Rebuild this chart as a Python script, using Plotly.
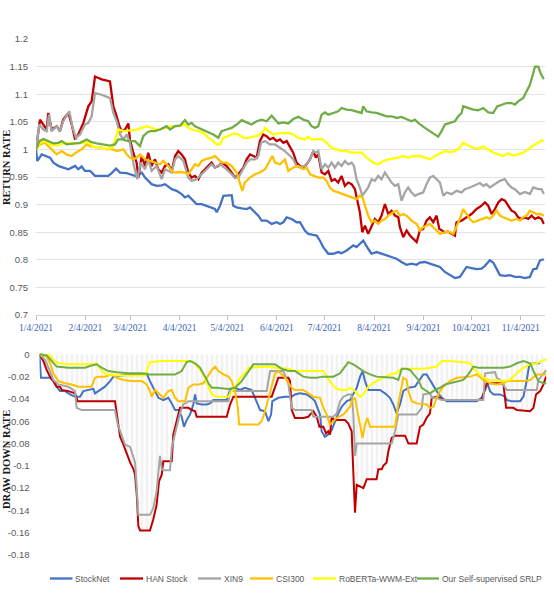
import plotly.graph_objects as go
import pandas as pd

BASE = pd.Timestamp("2021-01-04")
END_DAY = 319

series_names = ["StockNet", "HAN Stock", "XIN9", "CSI300", "RoBERTa-WWM-Ext", "Our Self-supervised SRLP"]
series_colors = ["#4472C4", "#C00000", "#A5A5A5", "#FFC000", "#FFFF00", "#70AD47"]

month_ticks = ["2021-01-04", "2021-02-04", "2021-03-04", "2021-04-04", "2021-05-04", "2021-06-04",
               "2021-07-04", "2021-08-04", "2021-09-04", "2021-10-04", "2021-11-04"]
month_labels = ["1/4/2021", "2/4/2021", "3/4/2021", "4/4/2021", "5/4/2021", "6/4/2021",
                "7/4/2021", "8/4/2021", "9/4/2021", "10/4/2021", "11/4/2021"]
ret_ticks = [0.7, 0.75, 0.8, 0.85, 0.9, 0.95, 1.0, 1.05, 1.1, 1.15, 1.2]
ret_labels = ["0.7", "0.75", "0.8", "0.85", "0.9", "0.95", "1", "1.05", "1.1", "1.15", "1.2"]
dd_ticks = [0, -0.02, -0.04, -0.06, -0.08, -0.1, -0.12, -0.14, -0.16, -0.18]
dd_labels = ["0", "-0.02", "-0.04", "-0.06", "-0.08", "-0.1", "-0.12", "-0.14", "-0.16", "-0.18"]

# (day since 2021-01-04, return rate)
stocknet_return = [(0,1.0),(0.8,0.979),(3.6,0.991),(6.7,0.987),(8.8,0.985),(10.9,0.976),(14.0,0.970),(17.1,0.967),(20.3,0.964),(22.4,0.967),(24.5,0.970),(26.5,0.964),(28.6,0.969),(30.7,0.961),(33.9,0.961),(37.0,0.952),(41.2,0.952),(45.4,0.952),(47.4,0.957),(50.2,0.965),(52.7,0.958),(56.9,0.957),(58.9,0.955),(63.1,0.951),(66.3,0.958),(68.4,0.949),(72.5,0.937),(75.7,0.934),(78.8,0.935),(80.9,0.937),(85.1,0.928),(88.2,0.925),(91.3,0.919),(93.4,0.913),(95.5,0.916),(97.6,0.910),(100.7,0.901),(103.9,0.901),(107.0,0.898),(110.1,0.895),(112.2,0.892),(113.3,0.886),(115.4,0.898),(117.5,0.916),(122.7,0.917),(123.7,0.898),(125.8,0.895),(129.0,0.893),(132.1,0.892),(134.2,0.895),(136.3,0.889),(139.4,0.880),(141.5,0.871),(144.6,0.871),(147.8,0.865),(150.9,0.868),(153.0,0.865),(155.1,0.868),(157.2,0.877),(160.3,0.874),(163.4,0.868),(165.5,0.868),(168.6,0.853),(170.7,0.847),(173.9,0.845),(176.0,0.844),(178.0,0.835),(180.1,0.823),(183.3,0.811),(186.4,0.811),(189.5,0.814),(191.6,0.812),(194.8,0.817),(196.9,0.821),(199.0,0.826),(201.0,0.823),(205.2,0.835),(208.3,0.820),(210.4,0.811),(213.6,0.814),(216.7,0.811),(219.8,0.808),(223.0,0.805),(226.1,0.802),(229.2,0.796),(232.4,0.791),(235.5,0.793),(238.7,0.791),(240.7,0.795),(243.9,0.796),(247.0,0.793),(250.2,0.790),(253.3,0.787),(256.4,0.778),(259.6,0.772),(262.7,0.767),(265.8,0.769),(267.9,0.778),(270.0,0.787),(273.1,0.785),(276.3,0.783),(279.4,0.784),(281.5,0.789),(284.6,0.799),(286.7,0.795),(288.8,0.784),(290.9,0.772),(294.0,0.771),(297.2,0.772),(300.3,0.769),(303.5,0.769),(306.6,0.767),(309.7,0.769),(311.8,0.783),(313.9,0.784),(316.0,0.799),(318.5,0.801)]

han_return = [(0,1.0),(2.5,1.054),(4.6,1.045),(6.7,1.036),(7.7,1.066),(9.8,1.036),(13.0,1.042),(15.0,1.033),(17.1,1.054),(20.3,1.066),(22.4,1.045),(24.5,1.018),(26.5,1.027),(29.7,1.048),(32.8,1.078),(34.9,1.087),(37.0,1.132),(41.2,1.127),(46.4,1.123),(48.5,1.078),(50.6,1.060),(52.3,1.042),(53.7,1.033),(55.8,1.036),(57.9,1.047),(58.9,1.018),(61.0,0.994),(63.1,0.976),(64.2,0.949),(66.3,0.988),(68.4,0.970),(70.4,0.994),(72.5,0.970),(74.6,0.982),(76.7,0.964),(78.8,0.958),(80.9,0.970),(83.0,0.973),(85.1,0.961),(87.2,0.988),(89.2,0.997),(91.3,0.991),(93.4,0.982),(95.5,0.958),(97.6,0.949),(99.7,0.952),(101.8,0.946),(103.9,0.958),(107.0,0.967),(110.1,0.976),(112.2,0.967),(114.3,0.970),(116.4,0.976),(119.5,0.970),(122.7,0.958),(124.8,0.949),(126.9,0.955),(130.0,0.967),(132.1,0.982),(134.2,0.991),(136.3,0.988),(138.4,0.985),(140.4,1.015),(142.5,1.027),(144.6,1.024),(146.7,1.018),(148.8,1.021),(150.9,1.015),(153.0,1.018),(155.1,1.012),(157.2,1.015),(159.3,1.003),(161.3,0.994),(163.4,0.976),(165.5,0.970),(167.6,0.967),(169.7,0.973),(171.8,0.982),(173.9,0.997),(175.5,0.985),(177.0,0.991),(179.1,0.958),(181.2,0.955),(183.3,0.961),(185.4,0.943),(187.4,0.946),(189.5,0.940),(191.6,0.952),(193.7,0.934),(195.8,0.940),(197.9,0.937),(200.0,0.928),(201.4,0.910),(203.1,0.886),(204.6,0.850),(206.3,0.862),(208.3,0.847),(210.4,0.859),(212.5,0.874),(214.6,0.868),(216.7,0.880),(218.8,0.901),(220.9,0.883),(223.0,0.889),(225.1,0.880),(227.2,0.877),(228.2,0.859),(230.3,0.841),(232.4,0.853),(234.5,0.844),(236.6,0.838),(238.7,0.832),(240.7,0.853),(242.8,0.856),(244.9,0.871),(247.0,0.877),(249.1,0.868),(251.2,0.880),(252.9,0.856),(254.3,0.853),(256.4,0.850),(258.5,0.851),(260.6,0.847),(262.7,0.844),(263.7,0.868),(266.9,0.871),(270.0,0.877),(273.1,0.883),(276.3,0.892),(279.4,0.898),(281.5,0.904),(283.6,0.898),(285.7,0.883),(287.8,0.892),(289.9,0.904),(292.0,0.910),(294.1,0.907),(296.1,0.898),(298.2,0.889),(300.3,0.886),(302.4,0.877),(304.5,0.874),(306.6,0.877),(308.7,0.874),(310.8,0.880),(312.9,0.874),(315.0,0.877),(317.0,0.874),(318.5,0.865)]

xin9_return = [(0,1.0),(2.1,1.045),(4.6,1.036),(6.7,1.033),(8.2,1.063),(9.8,1.033),(13.0,1.042),(15.0,1.033),(17.1,1.051),(20.9,1.069),(23.0,1.039),(25.1,1.021),(27.6,1.027),(30.7,1.045),(32.8,1.048),(34.9,1.060),(37.0,1.102),(41.2,1.099),(46.4,1.093),(48.5,1.066),(50.6,1.051),(52.7,1.027),(54.8,1.018),(56.9,1.027),(58.9,1.012),(61.0,0.976),(63.5,0.946),(65.6,0.976),(68.4,0.964),(70.4,0.982),(72.5,0.961),(75.7,0.970),(78.8,0.946),(80.9,0.964),(85.1,0.958),(87.2,0.982),(89.2,0.988),(92.4,0.979),(95.5,0.949),(97.6,0.943),(100.7,0.946),(103.9,0.955),(107.0,0.964),(110.1,0.973),(112.2,0.967),(115.4,0.973),(119.5,0.964),(122.7,0.955),(124.8,0.949),(126.9,0.949),(130.0,0.964),(132.1,0.976),(134.2,0.982),(137.3,0.982),(139.4,0.988),(141.1,1.012),(143.6,1.015),(146.7,1.009),(149.9,1.009),(153.0,1.003),(156.1,0.997),(159.3,0.988),(161.3,0.982),(163.4,0.970),(165.5,0.967),(168.6,0.970),(171.8,0.982),(173.9,0.997),(175.5,0.994),(177.0,0.997),(179.1,0.964),(181.2,0.973),(183.3,0.967),(185.4,0.976),(187.4,0.967),(189.5,0.976),(191.6,0.970),(193.7,0.979),(195.8,0.973),(197.9,0.976),(199.4,0.970),(201.0,0.946),(203.1,0.931),(204.6,0.916),(206.3,0.922),(208.3,0.931),(210.4,0.946),(212.5,0.943),(214.6,0.952),(216.7,0.946),(218.8,0.958),(220.9,0.949),(223.0,0.940),(225.1,0.934),(227.2,0.937),(228.2,0.922),(229.2,0.907),(231.3,0.922),(233.4,0.931),(235.5,0.922),(237.6,0.916),(239.7,0.919),(242.8,0.922),(244.9,0.937),(247.0,0.949),(249.1,0.952),(251.2,0.946),(253.3,0.940),(255.4,0.916),(257.5,0.922),(260.6,0.919),(263.7,0.925),(266.9,0.922),(268.9,0.928),(272.1,0.931),(275.2,0.935),(278.4,0.939),(280.5,0.934),(282.5,0.937),(284.6,0.931),(287.8,0.937),(290.9,0.943),(294.0,0.946),(296.1,0.937),(298.2,0.931),(300.3,0.928),(303.5,0.919),(306.6,0.923),(309.7,0.919),(311.8,0.931),(315.0,0.928),(317.0,0.928),(318.5,0.919)]

csi300_return = [(0,1.0),(2.5,1.009),(5.6,1.012),(7.7,1.005),(9.8,1.0),(13.0,0.991),(16.1,0.997),(19.2,0.991),(22.4,0.988),(25.5,0.995),(28.6,1.0),(31.8,1.009),(33.9,1.006),(37.0,1.004),(41.2,1.003),(44.3,1.0),(47.4,1.001),(50.6,0.997),(54.8,1.0),(56.9,0.991),(58.9,0.985),(61.0,0.982),(63.1,0.985),(65.2,0.991),(68.4,0.982),(71.5,0.979),(74.6,0.976),(77.8,0.973),(79.8,0.979),(81.9,0.973),(83.0,0.970),(85.1,0.961),(87.2,0.958),(90.3,0.959),(93.4,0.958),(95.5,0.955),(97.6,0.964),(99.7,0.973),(101.8,0.970),(103.9,0.979),(107.0,0.983),(110.1,0.985),(112.2,0.988),(114.3,0.982),(116.4,0.976),(119.5,0.976),(122.7,0.970),(125.8,0.958),(127.9,0.937),(129.4,0.925),(131.0,0.940),(134.2,0.949),(137.3,0.955),(140.4,0.958),(143.6,0.964),(146.7,0.979),(148.2,0.988),(149.9,0.976),(153.0,0.973),(156.1,0.982),(158.2,0.961),(161.3,0.967),(164.5,0.970),(167.6,0.964),(169.7,0.967),(171.8,0.955),(173.9,0.952),(177.0,0.949),(180.1,0.949),(182.2,0.943),(184.3,0.931),(186.4,0.925),(189.5,0.922),(192.7,0.919),(195.8,0.916),(199.0,0.913),(201.0,0.910),(203.1,0.916),(204.8,0.913),(206.3,0.898),(208.3,0.880),(210.4,0.868),(212.5,0.871),(214.6,0.865),(216.7,0.871),(218.8,0.874),(220.9,0.880),(224.0,0.886),(226.1,0.889),(228.2,0.880),(230.3,0.883),(232.4,0.880),(235.5,0.871),(238.7,0.865),(240.75,0.853),(242.8,0.859),(244.9,0.862),(247.0,0.865),(249.1,0.859),(251.2,0.853),(253.3,0.847),(256.4,0.850),(259.6,0.850),(261.7,0.847),(263.7,0.859),(265.8,0.874),(267.9,0.892),(270.0,0.883),(272.1,0.874),(274.2,0.868),(277.3,0.871),(280.5,0.874),(282.5,0.877),(284.6,0.874),(286.7,0.880),(288.8,0.889),(290.9,0.880),(293.0,0.877),(295.1,0.874),(298.2,0.871),(301.4,0.874),(303.5,0.871),(305.5,0.877),(307.6,0.880),(309.7,0.889),(311.8,0.886),(313.9,0.883),(316.0,0.883),(318.5,0.880)]

roberta_return = [(0,1.0),(2.5,1.012),(5.6,1.015),(8.8,1.009),(13.0,1.007),(17.1,1.011),(21.3,1.012),(25.5,1.011),(29.7,1.012),(32.8,1.013),(35.9,1.005),(40.1,1.003),(44.3,1.001),(48.1,1.003),(49.5,1.015),(51.6,1.036),(54.8,1.033),(58.9,1.034),(63.1,1.036),(66.3,1.039),(69.4,1.042),(72.5,1.039),(75.7,1.036),(78.8,1.037),(81.9,1.039),(85.1,1.042),(89.2,1.042),(93.4,1.045),(95.5,1.039),(97.6,1.036),(101.8,1.033),(104.9,1.030),(108.1,1.021),(111.2,1.015),(113.3,1.009),(115.4,1.009),(117.5,1.021),(120.6,1.024),(123.7,1.029),(126.9,1.027),(130.0,1.021),(133.1,1.021),(136.3,1.023),(139.4,1.025),(142.5,1.033),(143.6,1.039),(145.7,1.033),(148.8,1.027),(151.9,1.029),(155.1,1.030),(158.2,1.030),(161.3,1.027),(164.5,1.021),(168.6,1.018),(170.7,1.023),(172.8,1.018),(176.0,1.018),(179.1,1.019),(182.2,1.012),(185.4,1.003),(188.5,1.0),(191.6,0.997),(194.8,0.997),(197.9,0.994),(201.0,0.994),(204.2,0.994),(207.3,0.985),(209.4,0.981),(211.5,0.976),(214.6,0.973),(217.8,0.979),(220.9,0.982),(224.0,0.983),(227.2,0.985),(230.3,0.988),(233.4,0.985),(236.6,0.988),(240.75,0.988),(243.9,0.985),(247.0,0.982),(250.2,0.988),(253.3,0.993),(256.4,0.997),(259.6,0.995),(262.7,0.997),(265.8,1.003),(267.9,1.012),(271.1,1.007),(274.2,1.003),(277.3,1.001),(280.5,1.005),(283.6,1.0),(286.7,0.994),(289.9,0.991),(293.0,0.988),(296.1,0.993),(299.3,0.989),(302.4,0.991),(305.5,0.994),(308.7,1.0),(311.8,1.007),(314.9,1.012),(317.0,1.017),(318.5,1.015)]

srlp_return = [(0,1.0),(2.1,1.015),(4.6,1.019),(7.7,1.015),(10.9,1.011),(14.0,1.012),(16.1,1.015),(19.2,1.009),(23.4,1.011),(27.6,1.012),(31.8,1.018),(34.9,1.013),(38.0,1.011),(42.2,1.009),(46.4,1.007),(49.5,1.009),(51.6,1.018),(53.7,1.018),(57.9,1.015),(62.1,1.015),(65.2,1.006),(67.3,1.024),(69.4,1.030),(71.5,1.033),(74.6,1.033),(77.8,1.036),(79.8,1.039),(81.9,1.042),(84.0,1.036),(87.2,1.042),(90.3,1.043),(93.4,1.053),(95.5,1.045),(97.6,1.048),(99.7,1.042),(101.8,1.039),(104.9,1.036),(108.1,1.030),(111.2,1.027),(114.3,1.021),(116.4,1.033),(119.5,1.036),(122.7,1.039),(125.8,1.045),(129.0,1.053),(132.1,1.049),(135.2,1.045),(138.4,1.051),(141.5,1.054),(144.6,1.051),(147.8,1.061),(149.9,1.054),(152.0,1.047),(155.1,1.049),(158.2,1.047),(161.3,1.055),(164.5,1.059),(167.6,1.054),(170.7,1.051),(172.8,1.042),(174.9,1.039),(177.0,1.042),(179.1,1.063),(181.2,1.067),(183.3,1.063),(186.4,1.066),(189.5,1.069),(191.6,1.075),(194.8,1.072),(197.9,1.071),(201.0,1.069),(204.2,1.066),(205.2,1.078),(207.3,1.069),(210.4,1.067),(213.6,1.066),(216.7,1.063),(219.8,1.060),(223.0,1.060),(226.1,1.057),(229.2,1.059),(232.4,1.055),(235.5,1.051),(237.6,1.054),(239.7,1.048),(243.9,1.039),(247.0,1.033),(250.2,1.027),(252.2,1.023),(254.3,1.033),(256.4,1.045),(259.6,1.048),(262.7,1.051),(264.8,1.060),(266.9,1.066),(267.9,1.078),(271.1,1.075),(274.2,1.072),(277.3,1.071),(280.5,1.075),(283.6,1.067),(286.7,1.066),(289.2,1.078),(292.0,1.081),(295.1,1.084),(298.2,1.084),(300.3,1.081),(302.4,1.087),(305.5,1.093),(307.6,1.105),(309.7,1.117),(311.8,1.138),(312.9,1.150),(315.0,1.150),(316.4,1.138),(318.5,1.127)]

# (day since 2021-01-04, draw down rate)
stocknet_drawdown = [(0,0),(0.9,-0.021),(6.6,-0.021),(8.7,-0.024),(10.8,-0.029),(12.9,-0.033),(16.1,-0.033),(19.2,-0.036),(22.3,-0.038),(25.5,-0.038),(27.6,-0.033),(30.7,-0.032),(33.9,-0.031),(34.9,-0.035),(38.1,-0.032),(41.2,-0.029),(44.4,-0.024),(46.5,-0.020),(51.7,-0.019),(58.0,-0.018),(64.3,-0.018),(67.4,-0.017),(69.5,-0.024),(72.7,-0.033),(74.8,-0.039),(77.9,-0.041),(81.1,-0.039),(83.2,-0.044),(85.3,-0.050),(87.4,-0.050),(89.5,-0.056),(90.9,-0.065),(92.6,-0.059),(94.7,-0.054),(96.8,-0.045),(97.9,-0.036),(98.9,-0.044),(102.1,-0.045),(105.2,-0.045),(107.3,-0.044),(109.4,-0.041),(117.8,-0.041),(119.9,-0.032),(123.0,-0.030),(126.2,-0.032),(129.3,-0.030),(133.5,-0.032),(135.6,-0.039),(138.8,-0.050),(141.9,-0.051),(144.0,-0.060),(145.7,-0.054),(146.5,-0.042),(150.3,-0.039),(154.5,-0.038),(158.7,-0.038),(160.7,-0.036),(163.9,-0.035),(168.1,-0.036),(171.2,-0.039),(173.3,-0.042),(176.5,-0.054),(177.5,-0.069),(179.6,-0.074),(181.7,-0.072),(183.8,-0.068),(185.9,-0.060),(188.0,-0.053),(190.1,-0.047),(193.3,-0.042),(195.4,-0.041),(197.5,-0.036),(199.6,-0.030),(201.7,-0.020),(203.3,-0.015),(204.8,-0.024),(206.9,-0.032),(214.2,-0.032),(217.4,-0.035),(220.5,-0.039),(222.6,-0.045),(224.7,-0.053),(226.8,-0.045),(228.9,-0.033),(232.1,-0.030),(236.3,-0.029),(239.4,-0.023),(241.5,-0.018),(243.6,-0.018),(245.7,-0.023),(247.4,-0.026),(249.9,-0.033),(253.1,-0.039),(256.2,-0.042),(275.1,-0.042),(278.2,-0.039),(280.3,-0.032),(281.8,-0.026),(283.5,-0.033),(285.6,-0.036),(289.8,-0.036),(292.9,-0.038),(294.0,-0.041),(297.1,-0.042),(302.4,-0.042),(304.5,-0.038),(306.6,-0.023),(308.2,-0.009),(311.8,-0.008),(315.0,-0.008)]

han_drawdown = [(0,0),(2.4,-0.006),(4.5,-0.014),(6.6,-0.020),(8.7,-0.024),(10.8,-0.029),(12.9,-0.029),(14.0,-0.032),(18.2,-0.033),(22.3,-0.035),(24.0,-0.042),(47.5,-0.042),(48.6,-0.053),(49.6,-0.063),(50.7,-0.074),(52.8,-0.081),(54.9,-0.090),(57.0,-0.097),(59.1,-0.103),(60.1,-0.108),(61.2,-0.126),(62.2,-0.154),(63.3,-0.158),(69.5,-0.158),(71.6,-0.148),(73.7,-0.135),(75.2,-0.114),(76.9,-0.108),(77.9,-0.096),(83.2,-0.096),(84.2,-0.072),(86.3,-0.060),(88.4,-0.048),(93.7,-0.048),(95.8,-0.050),(97.9,-0.051),(98.9,-0.056),(117.8,-0.056),(119.9,-0.045),(122.0,-0.038),(146.1,-0.038),(150.3,-0.021),(156.6,-0.021),(157.6,-0.024),(158.7,-0.050),(160.7,-0.057),(166.0,-0.057),(169.1,-0.056),(172.3,-0.051),(174.4,-0.056),(176.1,-0.065),(178.6,-0.065),(180.3,-0.071),(181.7,-0.069),(182.8,-0.072),(183.8,-0.057),(185.9,-0.059),(192.2,-0.059),(194.3,-0.062),(196.4,-0.069),(197.5,-0.114),(198.5,-0.142),(199.6,-0.117),(201.2,-0.118),(203.8,-0.120),(205.9,-0.112),(212.1,-0.112),(213.2,-0.103),(215.3,-0.103),(216.3,-0.100),(218.4,-0.097),(219.5,-0.087),(221.6,-0.075),(223.7,-0.073),(230.0,-0.073),(232.1,-0.080),(237.3,-0.080),(239.4,-0.065),(241.5,-0.063),(243.6,-0.057),(245.7,-0.053),(246.8,-0.039),(249.9,-0.038),(252.0,-0.039),(254.1,-0.041),(278.2,-0.041),(280.3,-0.032),(281.4,-0.026),(289.8,-0.026),(291.9,-0.027),(293.6,-0.048),(298.2,-0.048),(300.3,-0.050),(308.7,-0.051),(310.8,-0.048),(312.4,-0.036),(315.0,-0.033),(317.1,-0.027),(318.7,-0.020)]

xin9_drawdown = [(0,0),(3.5,-0.005),(6.6,-0.015),(8.7,-0.023),(11.9,-0.027),(18.2,-0.029),(22.3,-0.033),(23.4,-0.048),(26.5,-0.050),(47.5,-0.050),(49.2,-0.063),(51.3,-0.072),(53.8,-0.081),(57.0,-0.083),(58.4,-0.090),(60.1,-0.097),(61.2,-0.120),(62.2,-0.144),(69.5,-0.144),(71.6,-0.138),(73.7,-0.123),(74.8,-0.102),(75.8,-0.091),(76.9,-0.103),(77.9,-0.104),(82.1,-0.104),(83.2,-0.084),(85.3,-0.071),(88.4,-0.053),(90.5,-0.045),(93.7,-0.042),(118.9,-0.042),(119.9,-0.033),(143.0,-0.033),(145.1,-0.015),(153.5,-0.015),(156.6,-0.027),(158.7,-0.048),(160.8,-0.050),(171.2,-0.050),(172.3,-0.056),(184.9,-0.056),(187.0,-0.053),(189.1,-0.042),(191.2,-0.038),(194.3,-0.036),(196.4,-0.036),(197.5,-0.054),(198.5,-0.091),(199.6,-0.080),(221.6,-0.080),(223.7,-0.069),(225.8,-0.054),(237.3,-0.054),(240.5,-0.048),(241.5,-0.036),(245.7,-0.035),(246.8,-0.039),(249.9,-0.039),(253.1,-0.041),(279.3,-0.041),(280.3,-0.017),(286.6,-0.016),(287.7,-0.021),(289.8,-0.023),(294.0,-0.032),(312.9,-0.032),(313.9,-0.023),(317.1,-0.017),(319.0,-0.014)]

csi300_drawdown = [(0,0),(4.5,-0.002),(6.6,-0.008),(8.7,-0.017),(11.9,-0.024),(16.1,-0.026),(20.2,-0.027),(24.4,-0.029),(32.8,-0.029),(34.9,-0.021),(37.0,-0.020),(41.2,-0.020),(45.4,-0.018),(48.6,-0.021),(52.8,-0.023),(58.0,-0.024),(64.3,-0.024),(67.4,-0.027),(69.5,-0.033),(70.6,-0.038),(72.7,-0.032),(74.8,-0.035),(77.9,-0.039),(81.1,-0.033),(83.2,-0.032),(85.3,-0.039),(87.4,-0.042),(91.6,-0.042),(93.7,-0.030),(96.8,-0.027),(100.0,-0.027),(103.1,-0.026),(106.3,-0.018),(108.4,-0.014),(110.5,-0.011),(112.6,-0.015),(115.7,-0.018),(118.9,-0.020),(121.0,-0.024),(123.0,-0.033),(124.7,-0.047),(125.6,-0.063),(137.7,-0.063),(139.8,-0.060),(141.9,-0.051),(144.0,-0.039),(146.1,-0.027),(148.2,-0.017),(150.3,-0.015),(154.5,-0.021),(158.7,-0.030),(160.8,-0.032),(166.0,-0.032),(169.1,-0.035),(172.3,-0.038),(176.5,-0.039),(178.6,-0.048),(180.7,-0.054),(182.8,-0.063),(184.9,-0.060),(187.0,-0.057),(191.2,-0.054),(193.3,-0.050),(195.4,-0.047),(196.4,-0.042),(198.5,-0.039),(199.6,-0.048),(201.7,-0.065),(203.3,-0.075),(204.8,-0.063),(206.3,-0.057),(208.0,-0.065),(223.7,-0.065),(225.8,-0.044),(227.9,-0.027),(228.9,-0.021),(231.0,-0.023),(232.1,-0.033),(234.2,-0.042),(237.3,-0.044),(243.6,-0.045),(245.7,-0.048),(247.9,-0.047),(249.9,-0.039),(252.0,-0.033),(254.1,-0.029),(258.3,-0.024),(262.5,-0.021),(270.9,-0.020),(275.1,-0.018),(279.3,-0.023),(283.5,-0.026),(287.7,-0.027),(291.9,-0.026),(294.0,-0.024),(304.5,-0.024),(308.7,-0.023),(312.9,-0.018),(319.0,-0.018)]

roberta_drawdown = [(0,0),(6.6,-0.001),(8.7,-0.005),(11.9,-0.008),(18.2,-0.009),(32.8,-0.009),(36.0,-0.008),(39.1,-0.015),(42.3,-0.018),(49.6,-0.019),(66.4,-0.019),(68.5,-0.012),(69.5,-0.007),(76.9,-0.006),(95.8,-0.006),(100.0,-0.012),(103.1,-0.018),(106.3,-0.029),(108.4,-0.036),(111.5,-0.038),(118.9,-0.038),(121.0,-0.033),(123.0,-0.029),(126.2,-0.021),(129.3,-0.017),(131.4,-0.012),(144.0,-0.011),(148.2,-0.012),(156.6,-0.013),(160.7,-0.015),(178.6,-0.015),(180.7,-0.020),(183.8,-0.026),(185.9,-0.030),(189.1,-0.032),(193.3,-0.032),(195.4,-0.030),(198.5,-0.033),(201.7,-0.038),(203.8,-0.036),(206.9,-0.029),(210.1,-0.026),(213.2,-0.023),(216.3,-0.021),(220.5,-0.018),(224.7,-0.017),(226.8,-0.014),(230.0,-0.013),(241.5,-0.013),(245.7,-0.012),(249.9,-0.011),(253.1,-0.006),(258.3,-0.006),(266.7,-0.007),(270.9,-0.008),(274.0,-0.014),(277.2,-0.018),(279.3,-0.021),(283.5,-0.023),(291.9,-0.024),(296.1,-0.023),(300.3,-0.017),(304.5,-0.012),(308.7,-0.009),(312.9,-0.008),(316.0,-0.006),(319.0,-0.004)]

srlp_drawdown = [(0,0),(4.5,-0.001),(7.7,-0.006),(10.8,-0.011),(18.2,-0.012),(28.6,-0.012),(32.8,-0.010),(36.0,-0.009),(39.1,-0.012),(43.3,-0.015),(48.6,-0.016),(55.9,-0.017),(64.3,-0.017),(69.5,-0.018),(85.3,-0.018),(89.5,-0.015),(92.6,-0.007),(94.7,-0.006),(97.9,-0.008),(101.0,-0.012),(104.2,-0.020),(106.3,-0.026),(108.4,-0.030),(111.5,-0.030),(118.9,-0.031),(123.0,-0.030),(127.2,-0.024),(131.4,-0.015),(134.6,-0.009),(148.2,-0.009),(152.4,-0.013),(156.6,-0.015),(160.8,-0.015),(166.0,-0.020),(170.2,-0.021),(174.4,-0.021),(178.6,-0.020),(184.9,-0.020),(189.1,-0.017),(192.2,-0.011),(194.3,-0.007),(197.5,-0.009),(200.6,-0.012),(203.8,-0.015),(208.0,-0.018),(212.1,-0.020),(222.6,-0.021),(225.8,-0.023),(227.9,-0.013),(231.0,-0.013),(233.1,-0.014),(236.3,-0.020),(238.4,-0.023),(240.5,-0.030),(243.6,-0.033),(245.7,-0.035),(248.9,-0.032),(252.0,-0.030),(255.2,-0.027),(258.3,-0.026),(262.5,-0.024),(266.7,-0.023),(269.8,-0.018),(273.0,-0.011),(276.1,-0.012),(291.9,-0.012),(296.1,-0.011),(300.3,-0.008),(304.5,-0.006),(308.7,-0.008),(310.8,-0.015),(313.9,-0.024),(317.1,-0.026),(319.0,-0.026)]

returns = [stocknet_return, han_return, xin9_return, csi300_return, roberta_return, srlp_return]
drawdowns = [stocknet_drawdown, han_drawdown, xin9_drawdown, csi300_drawdown, roberta_drawdown, srlp_drawdown]


def to_xy(pairs):
    days = [p[0] for p in pairs]
    vals = [p[1] for p in pairs]
    return [BASE + pd.Timedelta(days=d) for d in days], vals


W, H = 554, 600
def px_x(p):
    return p / W
def px_y(p):
    return 1 - p / H

fig = go.Figure()

# striped background of the draw-down panel (follows the HAN Stock draw-down)
bx, by = to_xy(han_drawdown)
fig.add_trace(go.Scatter(
    x=bx, y=by, xaxis="x2", yaxis="y2", mode="lines", line=dict(width=0, color="rgba(0,0,0,0)"),
    fill="tozeroy", fillcolor="rgba(0,0,0,0)",
    fillpattern=dict(shape="|", fgcolor="#e3e3e3", bgcolor="rgba(255,255,255,0)", size=5, solidity=0.5),
    showlegend=False, hoverinfo="skip"))

for name, color, pairs in zip(series_names, series_colors, returns):
    x, y = to_xy(pairs)
    fig.add_trace(go.Scatter(x=x, y=y, mode="lines", name=name,
                             line=dict(color=color, width=2.3), showlegend=False,
                             xaxis="x", yaxis="y"))

for name, color, pairs in zip(series_names, series_colors, drawdowns):
    x, y = to_xy(pairs)
    fig.add_trace(go.Scatter(x=x, y=y, mode="lines", name=name,
                             line=dict(color=color, width=2.0), showlegend=False,
                             xaxis="x2", yaxis="y2"))

x_range = [BASE, BASE + pd.Timedelta(days=END_DAY)]
sans = "Liberation Sans"
serif = "Liberation Serif"

fig.update_layout(
    width=W, height=H, margin=dict(l=0, r=0, t=0, b=0, autoexpand=False),
    paper_bgcolor="white", plot_bgcolor="white", showlegend=False,
    xaxis=dict(domain=[px_x(36), px_x(544.7)], type="date", range=x_range, anchor="y",
               tickvals=month_ticks, ticktext=month_labels, automargin=False,
               tickfont=dict(family=serif, size=9.5, color="#3a63b8"),
               ticks="outside", ticklen=4, tickcolor="#bfbfbf",
               showline=True, linecolor="#d0d0d0", linewidth=1, showgrid=False, zeroline=False),
    yaxis=dict(domain=[px_y(315), px_y(39)], range=[0.7, 1.2], anchor="x",
               tickvals=ret_ticks, ticktext=ret_labels, automargin=False,
               tickfont=dict(family=sans, size=9.5, color="#595959"),
               showgrid=True, gridcolor="#e2e2e2", gridwidth=1, zeroline=False, ticks="",
               ticklabelstandoff=7),
    xaxis2=dict(domain=[px_x(39.5), px_x(546.5)], type="date", range=x_range, anchor="y2",
                automargin=False,
                showticklabels=False, showgrid=False, zeroline=False, showline=False, ticks=""),
    yaxis2=dict(domain=[px_y(555), px_y(352.1)], range=[-0.18, 0.002], anchor="x2",
                tickvals=dd_ticks, ticktext=dd_labels, automargin=False,
                tickfont=dict(family=sans, size=9.5, color="#595959"),
                showgrid=False, zeroline=False, ticks="", ticklabelstandoff=9),
)

annotations = [
    dict(text="<b>RETURN RATE</b>", x=px_x(6), y=px_y(168), xref="paper", yref="paper",
         textangle=-90, showarrow=False, font=dict(family=serif, size=10.5, color="#1a1a1a"),
         xanchor="center", yanchor="middle"),
    dict(text="<b>DRAW DOWN RATE</b>", x=px_x(6), y=px_y(460), xref="paper", yref="paper",
         textangle=-90, showarrow=False, font=dict(family=serif, size=10.5, color="#1a1a1a"),
         xanchor="center", yanchor="middle"),
]

# manual legend (line sample + label)
legend_line_px = [(50, 72.5), (120, 143), (198, 221), (250, 273), (313, 336), (417, 439)]
legend_y = 578.5
shapes = []
for (x0, x1), name, color in zip(legend_line_px, series_names, series_colors):
    shapes.append(dict(type="line", xref="paper", yref="paper", x0=px_x(x0), x1=px_x(x1),
                       y0=px_y(legend_y), y1=px_y(legend_y), line=dict(color=color, width=2.3)))
    annotations.append(dict(text=name, x=px_x(x1 + 0.5), y=px_y(legend_y), xref="paper", yref="paper",
                            showarrow=False, xanchor="left", yanchor="middle",
                            font=dict(family=sans, size=8.5, color="#595959")))

fig.update_layout(annotations=annotations, shapes=shapes)
fig.write_html("out.html")
